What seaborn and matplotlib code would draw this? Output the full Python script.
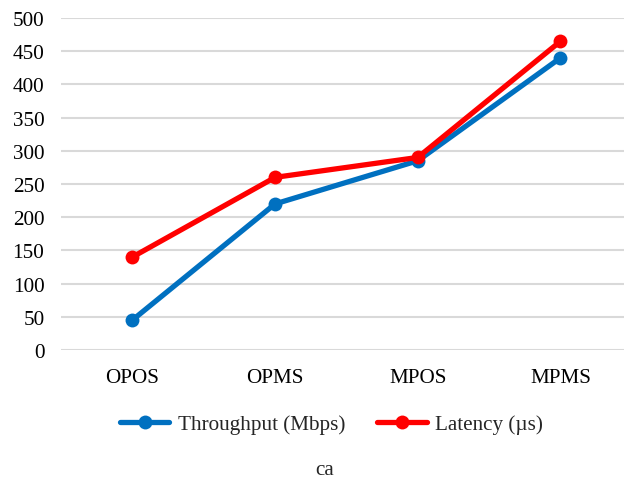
import matplotlib
matplotlib.use("Agg")
import matplotlib.pyplot as plt
import seaborn as sns
import pandas as pd

categories = ["OPOS", "OPMS", "MPOS", "MPMS"]
throughput = [45, 220, 285, 440]
latency = [140, 260, 290, 465]
series_names = ["Throughput (Mbps)", "Latency (\u00b5s)"]
yticks = [0, 50, 100, 150, 200, 250, 300, 350, 400, 450, 500]

sns.set_theme(style="white")
plt.rcParams["font.family"] = ["Liberation Serif", "DejaVu Serif"]

df = pd.DataFrame({
    "cat": categories * 2,
    "x": list(range(len(categories))) * 2,
    "value": throughput + latency,
    "series": [series_names[0]] * 4 + [series_names[1]] * 4,
})

fig = plt.figure(figsize=(6.24, 4.81), dpi=100)
ax = fig.add_axes([61 / 624, 1 - 351 / 481, 1 - 61 / 624, (351 - 19) / 481])

sns.lineplot(data=df, x="x", y="value", hue="series",
             palette=["#0070C0", "#FF0000"], marker="o", markersize=10,
             markeredgewidth=0, linewidth=3.8, ax=ax, legend=False,
             clip_on=False)

ax.set_ylim(0, 500)
ax.set_xlim(-0.5, 3.445)
ax.set_yticks(yticks)
ax.set_yticklabels([str(v) for v in yticks])
ax.set_xticks(range(len(categories)))
ax.set_xticklabels(categories)
ax.set_xlabel("")
ax.set_ylabel("")
ax.grid(axis="y", color="#d9d9d9", linewidth=1.5)
ax.set_axisbelow(True)
for s in ax.spines.values():
    s.set_visible(False)
ax.tick_params(axis="y", length=0, pad=12, labelsize=15.2, colors="black")
ax.tick_params(axis="x", length=0, pad=13, labelsize=15.2, colors="black")

handles = ax.get_lines()[:2]
fig.legend(handles, series_names, loc="center", bbox_to_anchor=(0.531, 1 - 425 / 481),
           ncol=2, frameon=False, fontsize=15.2, handlelength=2.35, handletextpad=0.4,
           columnspacing=1.5)
fig.text(0.521, 1 - 471 / 481, "ca", ha="center", va="center", fontsize=15.2)

fig.savefig("out.png", dpi=100)
